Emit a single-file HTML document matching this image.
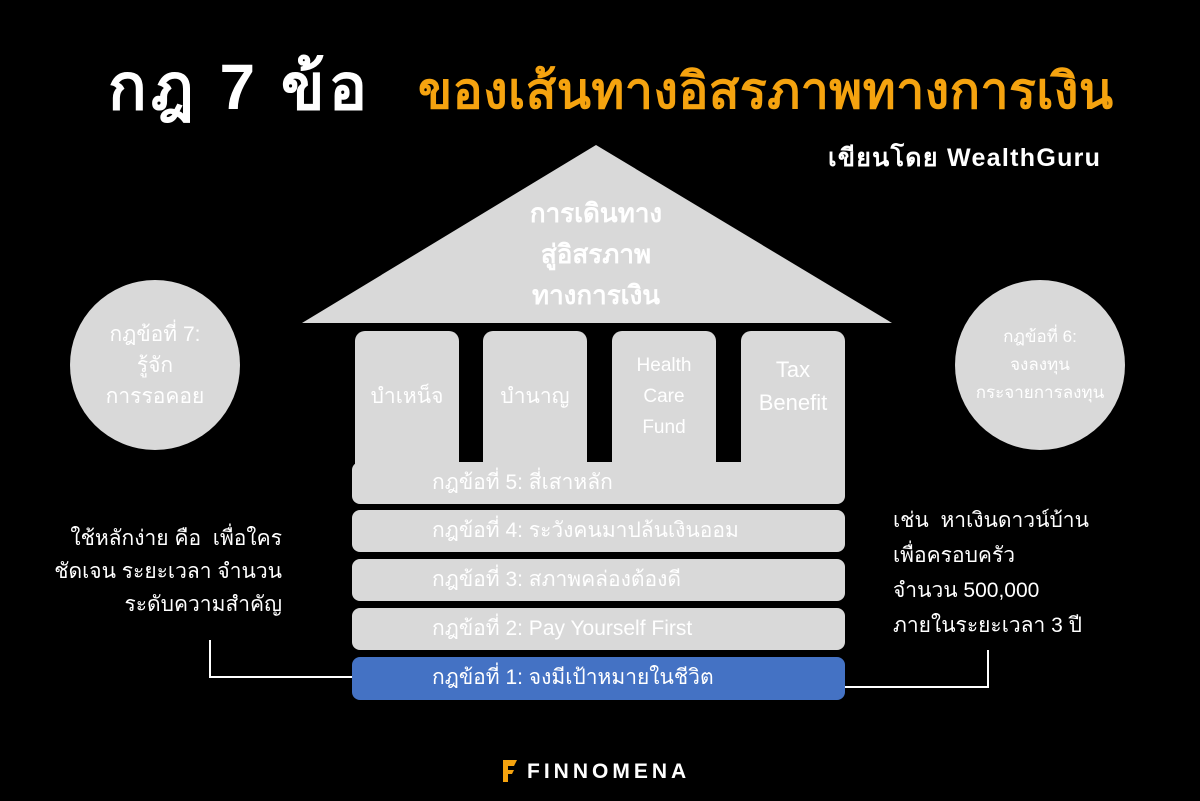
<!DOCTYPE html>
<html><head><meta charset="utf-8"><style>
body{margin:0;width:1200px;height:801px;background:#000;overflow:hidden;position:relative;font-family:"Liberation Sans","Noto Sans CJK SC",sans-serif}
.a{position:absolute}
.t{color:#fff;text-align:center}
.p{position:absolute;top:331px;width:104px;height:140px;background:#d9d9d9;border-radius:10px 10px 0 0;color:#fff;font-size:21px;text-align:center;display:flex;align-items:center;justify-content:center;line-height:31px;padding-bottom:10px;box-sizing:border-box}
.b{position:absolute;left:352px;width:493px;height:42px;background:#d9d9d9;border-radius:8px;color:#fff;font-size:21px;line-height:42px;box-sizing:border-box;padding-left:80px}
.c{position:absolute;width:170px;height:170px;border-radius:50%;background:#d9d9d9;color:#fff;text-align:center;display:flex;align-items:center;justify-content:center}
</style></head><body>
<div class="a" style="left:108px;top:36px;font-size:64px;font-weight:bold;color:#fff;letter-spacing:4px;white-space:nowrap">กฎ 7 ข้อ</div>
<div class="a" style="left:418px;top:52px;font-size:50px;font-weight:bold;color:#f5a30f;white-space:nowrap;letter-spacing:0.5px">ของเส้นทางอิสรภาพทางการเงิน</div>
<div class="a" style="left:828px;top:138px;font-size:25px;font-weight:bold;color:#fff;white-space:nowrap;letter-spacing:1.3px">เขียนโดย WealthGuru</div>
<svg class="a" style="left:0;top:0" width="1200" height="801">
<polygon points="596,145 302,323 892,323" fill="#d9d9d9"/>
<polyline points="210,640 210,677 352,677" fill="none" stroke="#fff" stroke-width="2"/>
<polyline points="988,650 988,687 845,687" fill="none" stroke="#fff" stroke-width="2"/>
<path d="M503 760 h14 l-3 6 h-6 v4 h6 l-2 4 h-4 v8 h-5z" fill="#f5a30f"/>
</svg>
<div class="a t" style="left:450px;top:193px;width:292px;font-size:26px;font-weight:bold;line-height:41px">การเดินทาง<br>สู่อิสรภาพ<br>ทางการเงิน</div>
<div class="p" style="left:355px">บำเหน็จ</div>
<div class="p" style="left:483px">บำนาญ</div>
<div class="p" style="left:612px;font-size:19px;line-height:31px">Health<br>Care<br>Fund</div>
<div class="p" style="left:741px;font-size:22px;line-height:33px;padding-bottom:30px">Tax<br>Benefit</div>
<div class="b" style="top:462px">กฎข้อที่ 5: สี่เสาหลัก</div>
<div class="b" style="top:510px">กฎข้อที่ 4: ระวังคนมาปล้นเงินออม</div>
<div class="b" style="top:559px">กฎข้อที่ 3: สภาพคล่องต้องดี</div>
<div class="b" style="top:608px">กฎข้อที่ 2: Pay Yourself First</div>
<div class="b" style="top:657px;background:#4472c4;height:43px">กฎข้อที่ 1: จงมีเป้าหมายในชีวิต</div>
<div class="c" style="left:70px;top:280px;font-size:21px;line-height:31px">กฎข้อที่ 7:<br>รู้จัก<br>การรอคอย</div>
<div class="c" style="left:955px;top:280px;font-size:17px;line-height:28px">กฎข้อที่ 6:<br>จงลงทุน<br>กระจายการลงทุน</div>
<div class="a" style="right:918px;top:522px;color:#fff;font-size:21px;line-height:33px;text-align:right;white-space:nowrap">ใช้หลักง่าย คือ &nbsp;เพื่อใคร<br>ชัดเจน ระยะเวลา จำนวน<br>ระดับความสำคัญ</div>
<div class="a" style="left:893px;top:503px;color:#fff;font-size:21px;line-height:35px;white-space:nowrap">เช่น &nbsp;หาเงินดาวน์บ้าน<br>เพื่อครอบครัว<br>จำนวน 500,000<br>ภายในระยะเวลา 3 ปี</div>
<div class="a" style="left:527px;top:760px;color:#fff;font-size:21px;letter-spacing:4px;font-weight:bold">FINNOMENA</div>
</body></html>
